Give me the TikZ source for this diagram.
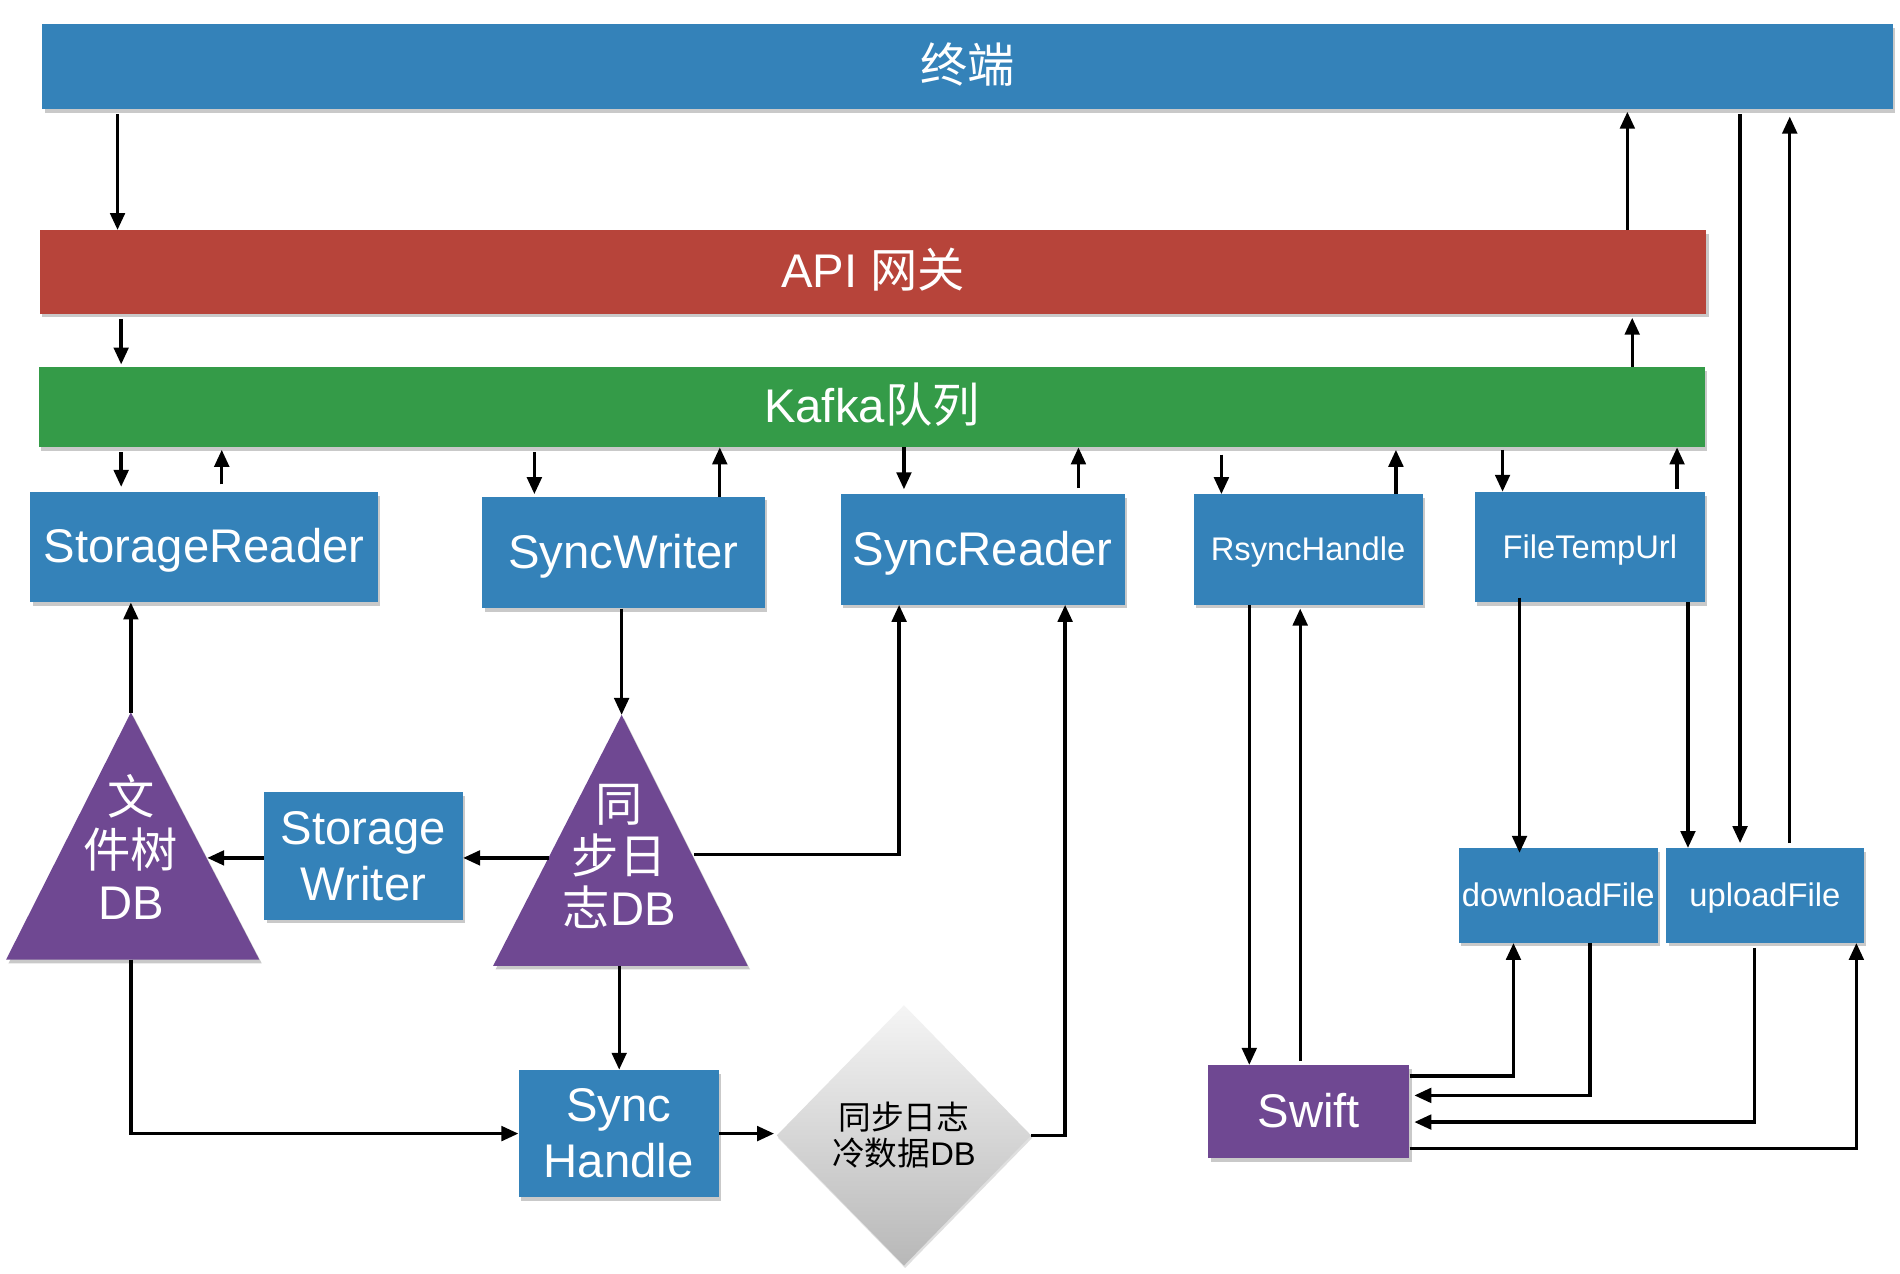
\documentclass[tikz,border=0pt]{standalone}
\usepackage{fontspec}
\setmainfont{Liberation Sans}
\newfontfamily\cjk{Noto Sans CJK SC}
\usetikzlibrary{arrows.meta,shapes.geometric,shadows}
\definecolor{cblue}{RGB}{52,130,185}
\definecolor{cred}{RGB}{183,68,58}
\definecolor{cgreen}{RGB}{52,155,72}
\definecolor{cpurple}{RGB}{111,72,146}
\newcommand{\fbig}{\fontsize{39}{46}\selectfont}
\newcommand{\fsmall}{\fontsize{27}{32}\selectfont}
\begin{document}
\begin{tikzpicture}[x=1pt,y=-1pt,
  shd/.style={drop shadow={shadow xshift=2pt,shadow yshift=-3pt,opacity=.35,fill=black!60}},
  box/.style={rectangle,inner sep=0pt,text=white,font=\fbig,align=center,shd},
  one/.style={text height=26pt,text depth=0pt},
  sone/.style={text height=18.5pt,text depth=0pt},
  bbox/.style={box,fill=cblue},
  sbox/.style={box,fill=cblue,font=\fsmall,sone},
  arr/.style={line width=2.8pt,-{Triangle[length=14pt,width=12pt]}},
  ln/.style={line width=2.8pt}]
\path[use as bounding box,fill=white] (0,0) rectangle (1568,1051);

% bars
\node[bbox,one,minimum width=1527pt,minimum height=70pt] (term) at (798.5,55) {{\cjk 终端}};
\node[box,one,fill=cred,minimum width=1375pt,minimum height=69pt] (api) at (720.5,224.5) {API {\cjk 网关}};
\node[box,one,fill=cgreen,minimum width=1375pt,minimum height=66pt] (kafka) at (719.5,336) {Kafka{\cjk 队列}};

% service boxes
\node[bbox,one,minimum width=287pt,minimum height=91pt] (sr) at (168.5,451.5) {StorageReader};
\node[bbox,one,minimum width=233pt,minimum height=92pt] (sw) at (514.5,456) {SyncWriter};
\node[bbox,one,minimum width=234pt,minimum height=91pt] (srd) at (811,453.5) {SyncReader};
\node[sbox,minimum width=189pt,minimum height=91pt] (rh) at (1079.5,453.5) {RsyncHandle};
\node[sbox,minimum width=190pt,minimum height=91pt] (ftu) at (1312,451.5) {FileTempUrl};
\node[sbox,minimum width=164pt,minimum height=78pt] (dl) at (1286,739) {downloadFile};
\node[sbox,minimum width=163pt,minimum height=78pt] (up) at (1456.5,739) {uploadFile};
\node[box,one,fill=cpurple,minimum width=166pt,minimum height=77pt] (swift) at (1080,917.5) {Swift};
\node[bbox,minimum width=164pt,minimum height=105pt] (stw) at (300,706.5) {Storage\\Writer};
\node[bbox,minimum width=165pt,minimum height=105pt] (sh) at (510.5,935.5) {Sync\\Handle};

% diamond
\node[diamond,inner sep=0pt,minimum width=210pt,minimum height=215pt,
      top color=white!96!black,bottom color=black!28,shading angle=0,
      drop shadow={shadow xshift=1pt,shadow yshift=-2pt,opacity=.25,fill=black!50},
      font=\fsmall,align=center] (dia) at (746,937)
      {{\cjk 同步日志}\\[-2pt]{\cjk 冷数据}DB};

% triangles
\coordinate (t1top) at (108,588);
\coordinate (t1base) at (108,792);
\coordinate (t1right) at (171,708);
\path[fill=cpurple,shd] (t1top) -- (214,792) -- (5,792) -- cycle;
\node[text=white,font=\fbig,align=center,inner sep=0pt] (t1) at (108,699)
  {{\cjk 文}\\[-3pt]{\cjk 件树}\\[-3pt]DB};
\coordinate (t2top) at (513,590);
\coordinate (t2base) at (511,797);
\coordinate (t2left) at (453,708);
\coordinate (t2right) at (573,705);
\path[fill=cpurple,shd] (t2top) -- (617,797) -- (407,797) -- cycle;
\node[text=white,font=\fbig,align=center,inner sep=0pt] (t2) at (511,707)
  {{\cjk 同}\\[-3pt]{\cjk 步日}\\[-3pt]{\cjk 志}DB};

% bar arrows
\draw[arr,shorten <=4pt] (97,0 |- term.south) -- (97,0 |- api.north);
\draw[arr,shorten <=4pt,shorten >=2pt] (100,0 |- api.south) -- (100,0 |- kafka.north);
\draw[arr,shorten >=2pt] (1343,0 |- api.north) -- (1343,0 |- term.south);
\draw[arr,shorten >=3pt] (1347,0 |- kafka.north) -- (1347,0 |- api.south);

% kafka <-> services
\draw[arr,shorten <=4pt,shorten >=4pt] (100,0 |- kafka.south) -- (100,0 |- sr.north);
\draw[arr,shorten <=6pt,shorten >=2pt] (183,0 |- sr.north) -- (183,0 |- kafka.south);
\draw[arr,shorten <=4pt,shorten >=2pt] (441,0 |- kafka.south) -- (441,0 |- sw.north);
\draw[arr] (594,0 |- sw.north) -- (594,0 |- kafka.south);
\draw[arr,shorten >=4pt] (746,0 |- kafka.south) -- (746,0 |- srd.north);
\draw[arr,shorten <=5pt] (890,0 |- srd.north) -- (890,0 |- kafka.south);
\draw[arr,shorten <=6pt] (1008,0 |- kafka.south) -- (1008,0 |- rh.north);
\draw[arr,shorten >=2pt] (1152,0 |- rh.north) -- (1152,0 |- kafka.south);
\draw[arr,shorten <=2pt] (1240,0 |- kafka.south) -- (1240,0 |- ftu.north);
\draw[arr,shorten <=2pt] (1384,0 |- ftu.north) -- (1384,0 |- kafka.south);

% terminal <-> uploadFile
\draw[arr,shorten <=4pt,shorten >=4pt] (1436,0 |- term.south) -- (1436,0 |- up.north);
\draw[arr,shorten <=4pt,shorten >=6pt] (1477,0 |- up.north) -- (1477,0 |- term.south);

% FileTempUrl -> download/upload
\draw[arr,shorten <=-4pt,shorten >=-4pt] (1254,0 |- ftu.south) -- (1254,0 |- dl.north);
\draw[arr] (1393,0 |- ftu.south) -- (1393,0 |- up.north);

% RsyncHandle <-> Swift
\draw[arr] (1031,0 |- rh.south) -- (1031,0 |- swift.north);
\draw[arr,shorten <=3pt,shorten >=3pt] (1073,0 |- swift.north) -- (1073,0 |- rh.south);

% Swift <-> download/upload
\draw[arr] (swift.east |- 0,888) -| (1249,0 |- dl.south);
\draw[arr,shorten >=4pt] (1312,0 |- dl.south) |- (swift.east |- 0,904);
\draw[arr,shorten <=4pt,shorten >=4pt] (1448,0 |- up.south) |- (swift.east |- 0,926);
\draw[arr] (swift.east |- 0,948) -| (1532,0 |- up.south);

% left part
\draw[arr] (t1top) -- (108,0 |- sr.south);
\draw[arr] (513,0 |- sw.south) -- (t2top);
\draw[arr] (t2left) -- (stw.east |- t2left);
\draw[arr] (stw.west |- t1right) -- (t1right);
\draw[arr] (t2right) -| (742,0 |- srd.south);
\draw[arr] (t2base) -- (511,0 |- sh.north);
\draw[arr] (t1base) |- (sh.west);
\draw[arr,shorten >=2pt] (sh.east) -- (sh.east -| dia.west);
\draw[arr] (dia.east) -| (879,0 |- srd.south);
\end{tikzpicture}
\end{document}
